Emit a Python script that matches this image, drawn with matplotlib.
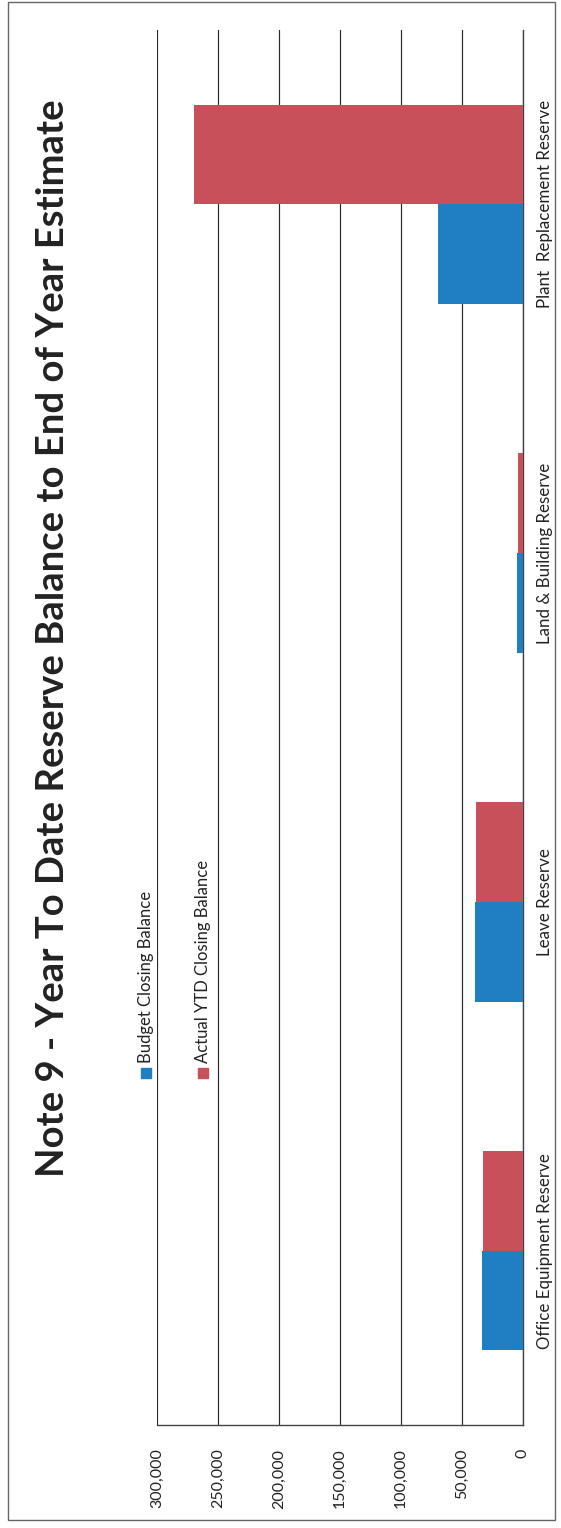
import matplotlib
matplotlib.use("Agg")
import matplotlib.pyplot as plt
from matplotlib.patches import Rectangle
from matplotlib.ticker import FuncFormatter

categories = ["Office Equipment Reserve", "Leave Reserve", "Land & Building Reserve", "Plant  Replacement Reserve"]
budget = [34000, 39000, 5000, 69500]
actual = [33000, 38500, 4500, 269500]
series_names = ["Budget Closing Balance", "Actual YTD Closing Balance"]
value_ticks = [0, 50000, 100000, 150000, 200000, 250000, 300000]
title = "Note 9 - Year To Date Reserve Balance to End of Year Estimate"

BLUE = "#1f7fc0"
RED = "#c8505a"
FONT = ["Lato", "DejaVu Sans"]

W, H, DPI = 561, 1528, 100
fig = plt.figure(figsize=(W / DPI, H / DPI), dpi=DPI)
fig.patch.set_facecolor("white")

def fx(px):
    return px / W

def fy(py):
    return 1 - py / H

# page border
fig.add_artist(Rectangle((fx(8), fy(1520)), fx(555) - fx(8), fy(2) - fy(1520),
                         transform=fig.transFigure, fill=False, edgecolor="#666666", lw=1.0))

left, right, top, bottom = 157, 523, 30, 1425
ax = fig.add_axes([fx(left), fy(bottom), fx(right) - fx(left), fy(top) - fy(bottom)])

n = len(categories)
bw = 0.286
pos = list(range(n))
ax.barh([p - bw / 2 for p in pos], budget, height=bw, color=BLUE, zorder=3)
ax.barh([p + bw / 2 for p in pos], actual, height=bw, color=RED, zorder=3)

ax.set_xlim(300000, 0)
ax.set_ylim(-0.5, n - 0.5)
ax.set_xticks(value_ticks)
ax.xaxis.set_major_formatter(FuncFormatter(lambda v, p: f"{int(v):,}"))
ax.grid(axis="x", color="#2a2a2a", lw=0.85, zorder=1)
ax.grid(axis="y", visible=False)
ax.tick_params(axis="x", length=0, pad=17, labelsize=11.5, labelrotation=90, colors="#222222")
for t in ax.get_xticklabels():
    t.set_family(FONT)

ax.yaxis.tick_right()
ax.set_yticks(pos)
ax.set_yticklabels(categories, rotation=90, va="center", family=FONT, fontsize=12.2, color="#222222")
ax.tick_params(axis="y", length=0, pad=10)

for s in ["top", "left"]:
    ax.spines[s].set_visible(False)
for s in ["bottom", "right"]:
    ax.spines[s].set_color("#444444")
    ax.spines[s].set_linewidth(1.0)
ax.set_facecolor("none")

# title
fig.text(fx(53), fy(638), title, rotation=90, ha="center", va="center",
         family=FONT, fontsize=27.5, fontweight="bold", color="#222222")

# legend (drawn rotated like the chart)
sq = 10
for xc, name, col in [(146, series_names[0], BLUE), (203, series_names[1], RED)]:
    fig.add_artist(Rectangle((fx(xc - sq / 2), fy(1078)), fx(sq), fy(1078 - sq) - fy(1078),
                             transform=fig.transFigure, color=col))
    fig.text(fx(xc), fy(1063), name, rotation=90, ha="center", va="bottom",
             family=FONT, fontsize=12, color="#222222")

fig.savefig("out.png", dpi=DPI, facecolor="white")
